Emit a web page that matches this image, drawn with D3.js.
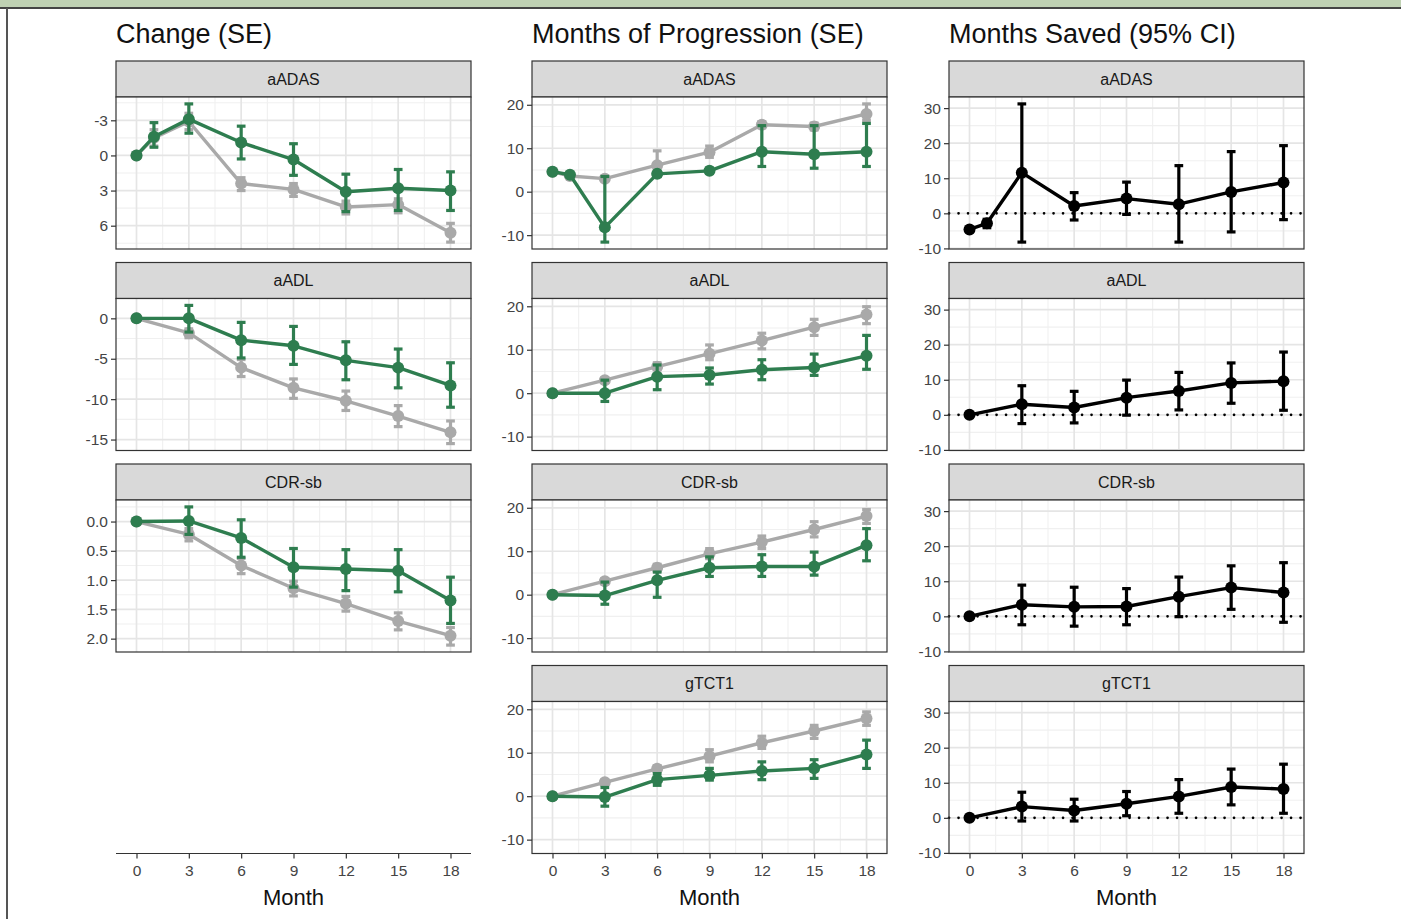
<!DOCTYPE html>
<html lang="en">
<head>
<meta charset="UTF-8">
<title>Change, Months of Progression, Months Saved</title>
<script src="https://cdn.jsdelivr.net/npm/d3@7"></script>
<style>
  body { margin: 0; background: #fff; }
  svg { display: block; font-family: "Liberation Sans", Arial, sans-serif; }
</style>
</head>
<body>
<div id="chart"></div>
<script>
// ---- data -------------------------------------------------------------
const months = [0, 3, 6, 9, 12, 15, 18];
const adasMonths = [0, 1, 3, 6, 9, 12, 15, 18];
const monthTicks = [0, 3, 6, 9, 12, 15, 18];
const facets = ["aADAS", "aADL", "CDR-sb", "gTCT1"];
const columnTitles = ["Change (SE)", "Months of Progression (SE)", "Months Saved (95% CI)"];

// every entry: [estimate, lower, upper]
// Change (SE)
const chgAdasPlacebo = [[0,0,0],[-1.5,-2.2,-0.8],[-2.9,-3.6,-2.2],[2.4,1.9,3.0],[2.9,2.4,3.5],[4.4,3.9,5.0],[4.2,3.7,4.9],[6.6,5.8,7.4]];
const chgAdasActive  = [[0,0,0],[-1.6,-2.8,-0.7],[-3.1,-4.4,-1.9],[-1.1,-2.5,0.3],[0.35,-1.0,1.7],[3.1,1.6,4.8],[2.8,1.2,4.7],[3.0,1.4,4.7]];
const chgAdlPlacebo  = [[0,0,0],[-1.8,-2.4,-1.3],[-6.1,-7.2,-5.1],[-8.6,-9.9,-7.5],[-10.2,-11.4,-9.0],[-12.1,-13.4,-10.8],[-14.1,-15.5,-12.7]];
const chgAdlActive   = [[0,0,0],[0,-1.7,1.6],[-2.7,-4.9,-0.5],[-3.4,-5.7,-1.0],[-5.2,-7.6,-2.9],[-6.1,-8.6,-3.8],[-8.3,-11.0,-5.5]];
const chgCdrPlacebo  = [[0,0,0],[0.22,0.12,0.33],[0.75,0.63,0.89],[1.14,1.02,1.27],[1.40,1.28,1.53],[1.70,1.56,1.85],[1.95,1.81,2.11]];
const chgCdrActive   = [[0,0,0],[-0.01,-0.25,0.22],[0.28,-0.03,0.61],[0.78,0.46,1.12],[0.81,0.48,1.18],[0.84,0.48,1.2],[1.35,0.95,1.74]];

// Months of Progression (SE)
const progAdasPlacebo = [[4.6,4.6,4.6],[3.6,3.6,3.6],[3.0,2.6,3.4],[6.1,3.5,9.4],[9.1,7.9,10.5],[15.4,14.7,16.1],[15.0,14.2,15.8],[17.9,16.4,20.2]];
const progAdasActive  = [[4.6,4.6,4.6],[3.9,3.9,3.9],[-8.2,-11.6,3.5],[4.1,3.5,4.7],[4.8,4.2,5.4],[9.2,5.8,15.2],[8.6,5.4,15.2],[9.2,5.8,15.7]];
const progAdlPlacebo  = [[0,0,0],[3.0,2.5,3.5],[6.1,5.4,7.0],[9.1,7.7,11.1],[12.1,10.2,13.8],[15.2,13.3,17.0],[18.1,16.0,19.9]];
const progAdlActive   = [[0,0,0],[0,-1.9,3.0],[3.8,0.8,6.5],[4.2,2.1,5.8],[5.4,3.1,7.7],[5.9,4.1,9.0],[8.6,5.5,13.3]];
const progCdrPlacebo  = [[0,0,0],[3.1,2.5,3.7],[6.2,5.4,7.0],[9.4,8.3,10.6],[12.1,10.6,13.5],[15.0,13.3,16.8],[18.1,16.4,19.6]];
const progCdrActive   = [[0,0,0],[-0.2,-2.2,2.9],[3.3,-0.6,5.2],[6.2,4.2,8.7],[6.5,4.2,9.2],[6.5,4.5,9.8],[11.4,7.8,15.2]];
const progTctPlacebo  = [[0,0,0],[3.2,2.7,3.7],[6.3,5.6,7.0],[9.2,7.9,10.7],[12.3,11.0,13.8],[15.0,13.3,16.3],[17.9,16.3,19.4]];
const progTctActive   = [[0,0,0],[-0.2,-2.3,2.0],[3.8,2.5,5.2],[4.8,3.7,6.4],[5.8,3.8,7.9],[6.4,4.1,8.4],[9.6,6.4,12.9]];

// Months Saved (95% CI)
const savedAdas = [[-4.6,-4.6,-4.6],[-2.85,-4.1,-1.7],[11.6,-8.2,31.2],[2.1,-1.9,5.9],[4.2,-0.3,8.9],[2.6,-8.2,13.6],[6.1,-5.3,17.6],[8.8,-1.8,19.3]];
const savedAdl  = [[0,0,0],[3.0,-2.5,8.3],[2.1,-2.3,6.7],[4.9,-0.1,9.9],[6.8,1.4,12.1],[9.1,3.3,14.8],[9.6,1.3,17.9]];
const savedCdr  = [[0,0,0],[3.3,-2.4,8.9],[2.7,-2.8,8.3],[2.8,-2.4,7.9],[5.6,-0.1,11.2],[8.2,2.0,14.4],[6.8,-1.7,15.3]];
const savedTct  = [[0,0,0],[3.2,-0.9,7.3],[2.1,-0.9,5.3],[4.0,0.6,7.5],[6.1,1.3,10.9],[8.8,3.7,13.9],[8.2,1.3,15.3]];

// y axis tick values
const chgAdasTicks = [-3, 0, 3, 6];
const chgAdlTicks = [0, -5, -10, -15];
const chgCdrTicks = [0, 0.5, 1, 1.5, 2];
const progTicks = [-10, 0, 10, 20];
const savedTicks = [-10, 0, 10, 20, 30];

// ---- layout -----------------------------------------------------------
const W = 1401, H = 919;
const colLeft = [116, 532, 949];
const panelW = 355;
const rowTop0 = 61, rowPitch = 201.5, stripH = 36, plotH = 152;
const GREEN = "#2e7d4f", GREY = "#a9a9a9", BLACK = "#000";
const tickFont = 15.5, tickColor = "#444";

const svg = d3.select("#chart").append("svg")
  .attr("width", W).attr("height", H);

// frame of the figure
svg.append("rect").attr("x", 0).attr("y", 0).attr("width", W).attr("height", 7.5).attr("fill", "#bfd1b3");
svg.append("line").attr("x1", 0).attr("x2", W).attr("y1", 8).attr("y2", 8).attr("stroke", "#444").attr("stroke-width", 2);
svg.append("line").attr("x1", 7).attr("x2", 7).attr("y1", 8).attr("y2", H).attr("stroke", "#555").attr("stroke-width", 2);

// column titles
columnTitles.forEach(function (t, i) {
  svg.append("text").attr("x", colLeft[i]).attr("y", 43)
    .attr("font-size", 27).attr("fill", "#111").text(t);
});

// x scale shared by every panel (ggplot 5% expansion incl. errorbar caps)
const capHalf = 0.25;
const xPad = (18 + 2 * capHalf) * 0.05;
const xDomain = [-capHalf - xPad, 18 + capHalf + xPad];

function expand(ext) {
  const d = (ext[1] - ext[0]) * 0.05;
  return [ext[0] - d, ext[1] + d];
}
function extentOf(list) {
  return d3.extent(list.flat(2));
}
const fmtPlain = d => String(d);
const fmtOne = d => d.toFixed(1);

const progDomain = expand(extentOf([progAdasPlacebo, progAdasActive, progAdlPlacebo, progAdlActive,
  progCdrPlacebo, progCdrActive, progTctPlacebo, progTctActive]));
const savedDomain = expand(extentOf([savedAdas, savedAdl, savedCdr, savedTct]));

const panels = [
  { col: 0, row: 0, name: facets[0], ticks: chgAdasTicks, reverse: true, fmt: fmtPlain,
    domain: expand(extentOf([chgAdasPlacebo, chgAdasActive])),
    series: [{ x: adasMonths, d: chgAdasPlacebo, c: GREY }, { x: adasMonths, d: chgAdasActive, c: GREEN }] },
  { col: 0, row: 1, name: facets[1], ticks: chgAdlTicks, reverse: false, fmt: fmtPlain,
    domain: expand(extentOf([chgAdlPlacebo, chgAdlActive])),
    series: [{ x: months, d: chgAdlPlacebo, c: GREY }, { x: months, d: chgAdlActive, c: GREEN }] },
  { col: 0, row: 2, name: facets[2], ticks: chgCdrTicks, reverse: true, fmt: fmtOne,
    domain: expand(extentOf([chgCdrPlacebo, chgCdrActive])),
    series: [{ x: months, d: chgCdrPlacebo, c: GREY }, { x: months, d: chgCdrActive, c: GREEN }] },

  { col: 1, row: 0, name: facets[0], ticks: progTicks, fmt: fmtPlain, domain: progDomain,
    series: [{ x: adasMonths, d: progAdasPlacebo, c: GREY }, { x: adasMonths, d: progAdasActive, c: GREEN }] },
  { col: 1, row: 1, name: facets[1], ticks: progTicks, fmt: fmtPlain, domain: progDomain,
    series: [{ x: months, d: progAdlPlacebo, c: GREY }, { x: months, d: progAdlActive, c: GREEN }] },
  { col: 1, row: 2, name: facets[2], ticks: progTicks, fmt: fmtPlain, domain: progDomain,
    series: [{ x: months, d: progCdrPlacebo, c: GREY }, { x: months, d: progCdrActive, c: GREEN }] },
  { col: 1, row: 3, name: facets[3], ticks: progTicks, fmt: fmtPlain, domain: progDomain,
    series: [{ x: months, d: progTctPlacebo, c: GREY }, { x: months, d: progTctActive, c: GREEN }] },

  { col: 2, row: 0, name: facets[0], ticks: savedTicks, fmt: fmtPlain, domain: savedDomain, zeroLine: true,
    series: [{ x: adasMonths, d: savedAdas, c: BLACK }] },
  { col: 2, row: 1, name: facets[1], ticks: savedTicks, fmt: fmtPlain, domain: savedDomain, zeroLine: true,
    series: [{ x: months, d: savedAdl, c: BLACK }] },
  { col: 2, row: 2, name: facets[2], ticks: savedTicks, fmt: fmtPlain, domain: savedDomain, zeroLine: true,
    series: [{ x: months, d: savedCdr, c: BLACK }] },
  { col: 2, row: 3, name: facets[3], ticks: savedTicks, fmt: fmtPlain, domain: savedDomain, zeroLine: true,
    series: [{ x: months, d: savedTct, c: BLACK }] }
];

function minorBreaks(ticks, domain) {
  const t = ticks.slice().sort((a, b) => a - b);
  const step = t[1] - t[0];
  const lo = Math.min(domain[0], domain[1]), hi = Math.max(domain[0], domain[1]);
  const out = [];
  for (let v = t[0] - step / 2; v <= t[t.length - 1] + step / 2 + 1e-9; v += step) {
    if (v >= lo && v <= hi) out.push(v);
  }
  return out;
}

function drawPanel(p) {
  const left = colLeft[p.col];
  const top = rowTop0 + p.row * rowPitch;
  const g = svg.append("g").attr("transform", "translate(" + left + "," + top + ")");

  // strip
  g.append("rect").attr("x", 0).attr("y", 0).attr("width", panelW).attr("height", stripH)
    .attr("fill", "#d9d9d9").attr("stroke", "#333").attr("stroke-width", 1.2);
  g.append("text").attr("x", panelW / 2).attr("y", stripH / 2 + 5.5)
    .attr("text-anchor", "middle").attr("font-size", 16).attr("fill", "#1a1a1a").text(p.name);

  const pg = g.append("g").attr("transform", "translate(0," + stripH + ")");
  const x = d3.scaleLinear().domain(xDomain).range([0, panelW]);
  const yDom = p.reverse ? [p.domain[1], p.domain[0]] : p.domain;
  const y = d3.scaleLinear().domain(yDom).range([plotH, 0]);

  pg.append("rect").attr("width", panelW).attr("height", plotH).attr("fill", "#fff");

  // grid
  const xMinor = minorBreaks(monthTicks, xDomain);
  const yMinor = minorBreaks(p.ticks, p.domain);
  pg.selectAll(".gxm").data(xMinor).enter().append("line")
    .attr("x1", d => x(d)).attr("x2", d => x(d)).attr("y1", 0).attr("y2", plotH)
    .attr("stroke", "#f0f0f0").attr("stroke-width", 1.1);
  pg.selectAll(".gym").data(yMinor).enter().append("line")
    .attr("y1", d => y(d)).attr("y2", d => y(d)).attr("x1", 0).attr("x2", panelW)
    .attr("stroke", "#f0f0f0").attr("stroke-width", 1.1);
  pg.selectAll(".gx").data(monthTicks).enter().append("line")
    .attr("x1", d => x(d)).attr("x2", d => x(d)).attr("y1", 0).attr("y2", plotH)
    .attr("stroke", "#e5e5e5").attr("stroke-width", 1.7);
  pg.selectAll(".gy").data(p.ticks).enter().append("line")
    .attr("y1", d => y(d)).attr("y2", d => y(d)).attr("x1", 0).attr("x2", panelW)
    .attr("stroke", "#e5e5e5").attr("stroke-width", 1.7);

  if (p.zeroLine) {
    pg.append("line").attr("x1", 0).attr("x2", panelW).attr("y1", y(0)).attr("y2", y(0))
      .attr("stroke", "#000").attr("stroke-width", 2.6)
      .attr("stroke-dasharray", "0.1,9.4").attr("stroke-linecap", "round");
  }

  // series
  p.series.forEach(function (s) {
    const pts = s.d.map((v, i) => ({ m: s.x[i], est: v[0], lo: v[1], hi: v[2] }));
    const sg = pg.append("g");
    sg.append("path").datum(pts)
      .attr("fill", "none").attr("stroke", s.c).attr("stroke-width", 3.4)
      .attr("stroke-linejoin", "round")
      .attr("d", d3.line().x(d => x(d.m)).y(d => y(d.est)));
    const eb = sg.selectAll(".eb").data(pts).enter().append("g")
      .attr("stroke", s.c).attr("stroke-width", 3.2);
    eb.append("line").attr("x1", d => x(d.m)).attr("x2", d => x(d.m))
      .attr("y1", d => y(d.lo)).attr("y2", d => y(d.hi));
    eb.append("line").attr("x1", d => x(d.m - capHalf)).attr("x2", d => x(d.m + capHalf))
      .attr("y1", d => y(d.lo)).attr("y2", d => y(d.lo));
    eb.append("line").attr("x1", d => x(d.m - capHalf)).attr("x2", d => x(d.m + capHalf))
      .attr("y1", d => y(d.hi)).attr("y2", d => y(d.hi));
    sg.selectAll("circle").data(pts).enter().append("circle")
      .attr("cx", d => x(d.m)).attr("cy", d => y(d.est)).attr("r", 6).attr("fill", s.c);
  });

  // border
  pg.append("rect").attr("width", panelW).attr("height", plotH)
    .attr("fill", "none").attr("stroke", "#333").attr("stroke-width", 1.2);

  // y axis
  const ya = pg.append("g")
    .call(d3.axisLeft(y).tickValues(p.ticks).tickFormat(p.fmt).tickSize(5).tickPadding(3));
  ya.select(".domain").remove();
  ya.selectAll(".tick line").attr("stroke", "#333").attr("stroke-width", 1.2);
  ya.selectAll(".tick text").attr("font-size", tickFont).attr("fill", tickColor)
    .attr("font-family", "Liberation Sans, Arial, sans-serif");
}

panels.forEach(drawPanel);

// bottom x axes for all three columns
const axisY = rowTop0 + 3 * rowPitch + stripH + plotH;
colLeft.forEach(function (left, i) {
  const x = d3.scaleLinear().domain(xDomain).range([0, panelW]);
  const ag = svg.append("g").attr("transform", "translate(" + left + "," + axisY + ")");
  const xa = ag.call(d3.axisBottom(x).tickValues(monthTicks).tickFormat(fmtPlain).tickSize(5).tickPadding(6));
  xa.select(".domain").attr("d", "M0,0H" + panelW).attr("stroke", "#333").attr("stroke-width", 1.2);
  xa.selectAll(".tick line").attr("stroke", "#333").attr("stroke-width", 1.2);
  xa.selectAll(".tick text").attr("font-size", tickFont).attr("fill", tickColor)
    .attr("font-family", "Liberation Sans, Arial, sans-serif");
  svg.append("text").attr("x", left + panelW / 2).attr("y", 905)
    .attr("text-anchor", "middle").attr("font-size", 22).attr("fill", "#111").text("Month");
});
</script>
</body>
</html>
